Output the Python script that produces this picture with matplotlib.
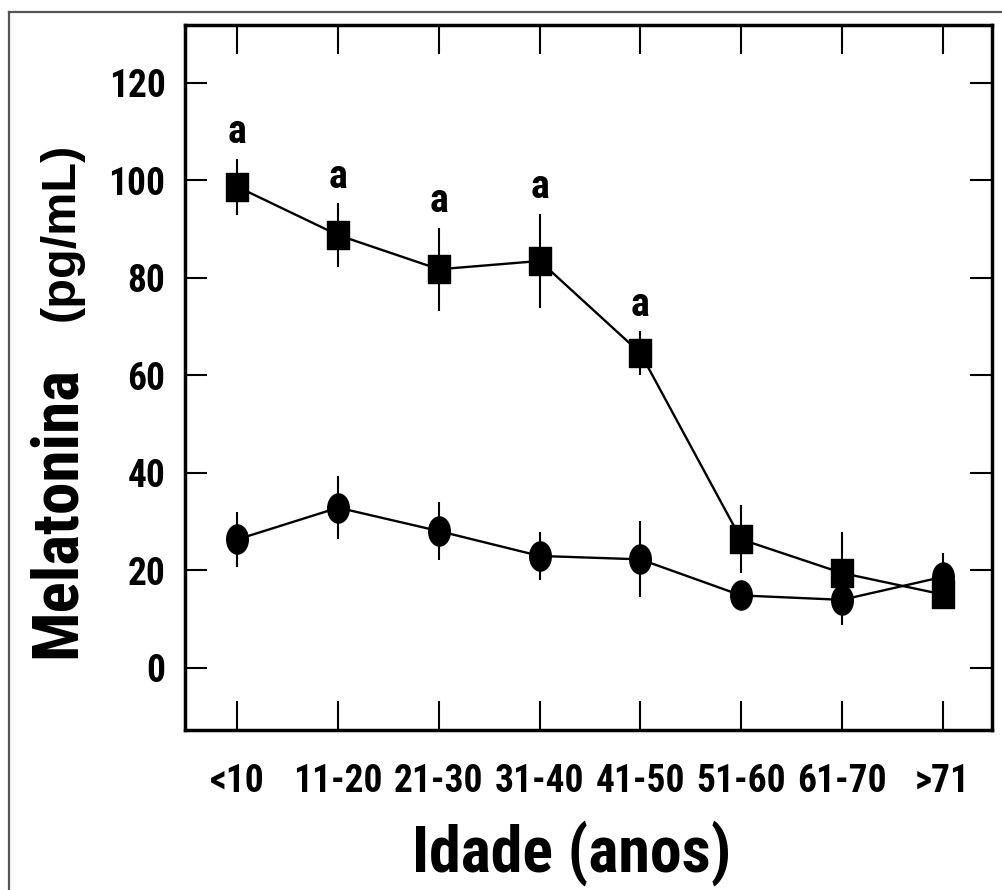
import matplotlib
matplotlib.use("Agg")
import matplotlib.pyplot as plt
from matplotlib.lines import Line2D
from matplotlib.path import Path
from matplotlib.transforms import Affine2D
from matplotlib import font_manager

# age groups and melatonin values (pg/mL)
ages = ['<10', '11-20', '21-30', '31-40', '41-50', '51-60', '61-70', '>71']
night_mean = [98.6, 88.7, 81.7, 83.4, 64.5, 26.3, 19.4, 15.0]
night_err = [5.8, 6.5, 8.5, 9.7, 4.5, 7.0, 8.4, 2.0]
day_mean = [26.3, 32.8, 28.0, 22.9, 22.2, 14.8, 13.9, 18.6]
day_err = [5.6, 6.5, 6.0, 5.0, 7.8, 2.0, 5.1, 4.9]
signif = ['a', 'a', 'a', 'a', 'a', '', '', '']


def weight_num(w):
    if isinstance(w, (int, float)):
        return w
    return font_manager.weight_dict.get(w, 400)


# pick an Arial Narrow look-alike that also has a bold face
bold_fonts = {f.name for f in font_manager.fontManager.ttflist if weight_num(f.weight) >= 700}
candidates = ['Liberation Sans Narrow', 'Arial Narrow', 'Nimbus Sans Narrow', 'Archivo Narrow',
              'Roboto Condensed', 'PT Sans Narrow', 'Fira Sans Condensed', 'IBM Plex Sans Condensed',
              'Barlow Semi Condensed', 'Barlow Condensed', 'Open Sans Condensed', 'Saira SemiCondensed']
narrow = next((c for c in candidates if c in bold_fonts), 'DejaVu Sans')

W, H = 1003, 890
fig = plt.figure(figsize=(W / 100, H / 100), dpi=100)
ax = fig.add_axes([185 / W, 1 - 730 / H, 807 / W, 705 / H])

# slightly tall markers, as in the scanned figure
square = Path.unit_rectangle().transformed(Affine2D().translate(-0.5, -0.5).scale(0.8, 1.0))
circle = Path.unit_circle().transformed(Affine2D().scale(0.74, 1.0))

x = list(range(len(ages)))
ax.errorbar(x, night_mean, yerr=night_err, fmt='none', ecolor='black', elinewidth=1.5, capsize=0)
ax.errorbar(x, day_mean, yerr=day_err, fmt='none', ecolor='black', elinewidth=1.5, capsize=0)
ax.plot(x, day_mean, color='black', linewidth=1.7, marker=circle, markersize=21,
        markerfacecolor='black', markeredgecolor='black')
ax.plot(x, night_mean, color='black', linewidth=1.7, marker=square, markersize=20,
        markerfacecolor='black', markeredgecolor='black')

for xi, m, e, s in zip(x, night_mean, night_err, signif):
    if s:
        ax.annotate(s, (xi, m + e), xytext=(0, 19), textcoords='offset points',
                    ha='center', va='center', fontsize=29, fontweight='bold',
                    family=narrow)

ax.set_xlim(-0.521, 7.49)
ax.set_ylim(-12.8, 131.8)
ax.set_xticks(x)
ax.set_xticklabels(ages)
ax.set_yticks(range(0, 121, 20))

for sp in ax.spines.values():
    sp.set_linewidth(2.5)
ax.tick_params(axis='x', direction='in', length=21, width=1.5, top=True, pad=24)
ax.tick_params(axis='y', direction='in', length=16, width=1.5, right=True, pad=14)
for lab in ax.get_xticklabels() + ax.get_yticklabels():
    lab.set_fontsize(27)
    lab.set_fontweight('bold')
    lab.set_family(narrow)

# axis titles
fig.text(57 / W, 1 - 512 / H, 'Melatonina', rotation=90, ha='center', va='center',
         fontsize=47, fontweight='bold', family=narrow)
fig.text(61 / W, 1 - 232 / H, '(pg/mL)', rotation=90, ha='center', va='center',
         fontsize=35, fontweight='bold', family='Liberation Sans')
fig.text(572 / W, 1 - 872 / H, 'Idade (anos)', ha='center', va='baseline',
         fontsize=46, fontweight='bold', family=narrow)

# frame of the scanned figure
fig.add_artist(Line2D([9 / W, 1.0], [1 - 12 / H, 1 - 12 / H], color='#555555', linewidth=1.6))
fig.add_artist(Line2D([9 / W, 9 / W], [0.0, 1 - 12 / H], color='#555555', linewidth=1.6))

fig.savefig('out.png', dpi=100)
